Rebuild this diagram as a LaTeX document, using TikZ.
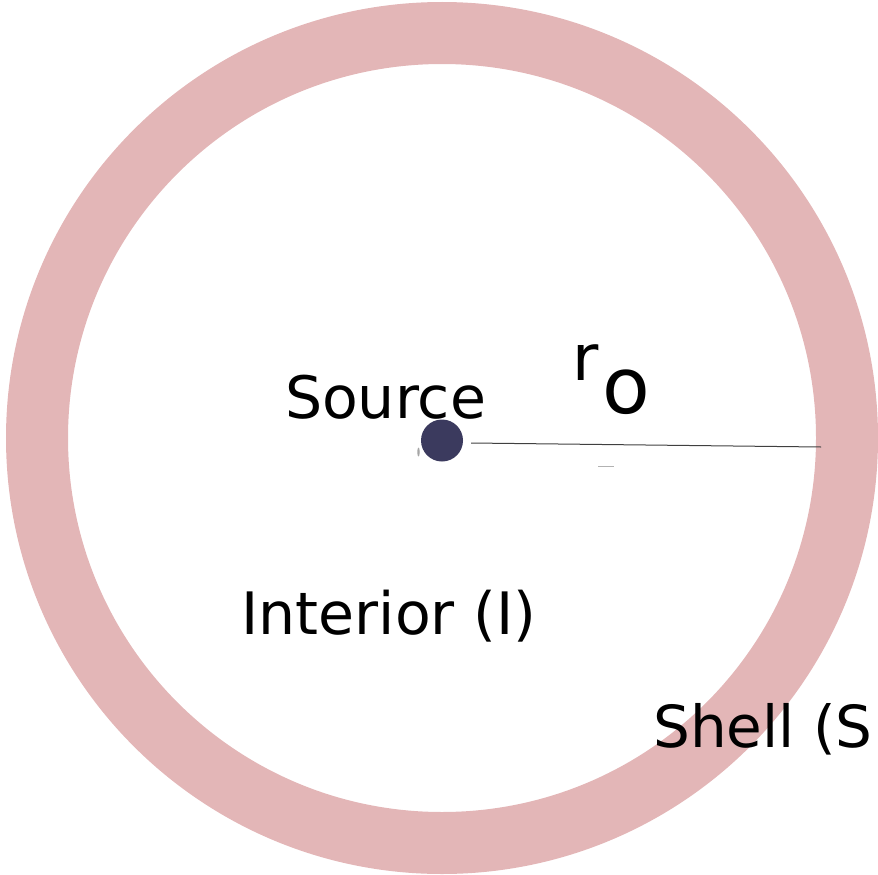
\documentclass[tikz,border=0pt]{standalone}
\usepackage{fontspec}
\setmainfont{DejaVu Sans}
\usetikzlibrary{shapes.geometric}
\definecolor{shellpink}{HTML}{E3B6B7}
\definecolor{sourceblue}{HTML}{3B3A5E}
\begin{document}
\begin{tikzpicture}[x=1pt, y=-1pt, every node/.style={inner sep=0pt},
  lbl/.style={font=\fontsize{58.5}{61}\selectfont}]
  \useasboundingbox (0,0) rectangle (878,875);
  \draw[shellpink, line width=62] (442,438) circle (405);
  \node[circle, fill=sourceblue, minimum size=42] (src) at (442,440.5) {};
  \node[ellipse, fill=gray!70, minimum width=2.5, minimum height=9] (blip) at (418.5,452) {};
  \coordinate (rim) at (821,447);
  \coordinate (start) at (471,443);
  \draw[black!75, line width=1] (start) -- (rim);
  \draw[gray!60, line width=1] (598,466.5) -- (614,466.5);
  \node[lbl, anchor=base] (srclbl) at (385.5,418) {Source};
  \node[anchor=base west, font=\fontsize{64}{66}\selectfont] (rlbl) at (572,380) {r};
  \node[anchor=base west, font=\fontsize{78}{80}\selectfont] (olbl) at (602,413) {o};
  \node[lbl, anchor=base] (intlbl) at (389,634) {Interior (I)};
  \node[anchor=base west, font=\fontsize{58}{60}\selectfont] (shelllbl) at (653,747) {Shell (S};
\end{tikzpicture}
\end{document}
